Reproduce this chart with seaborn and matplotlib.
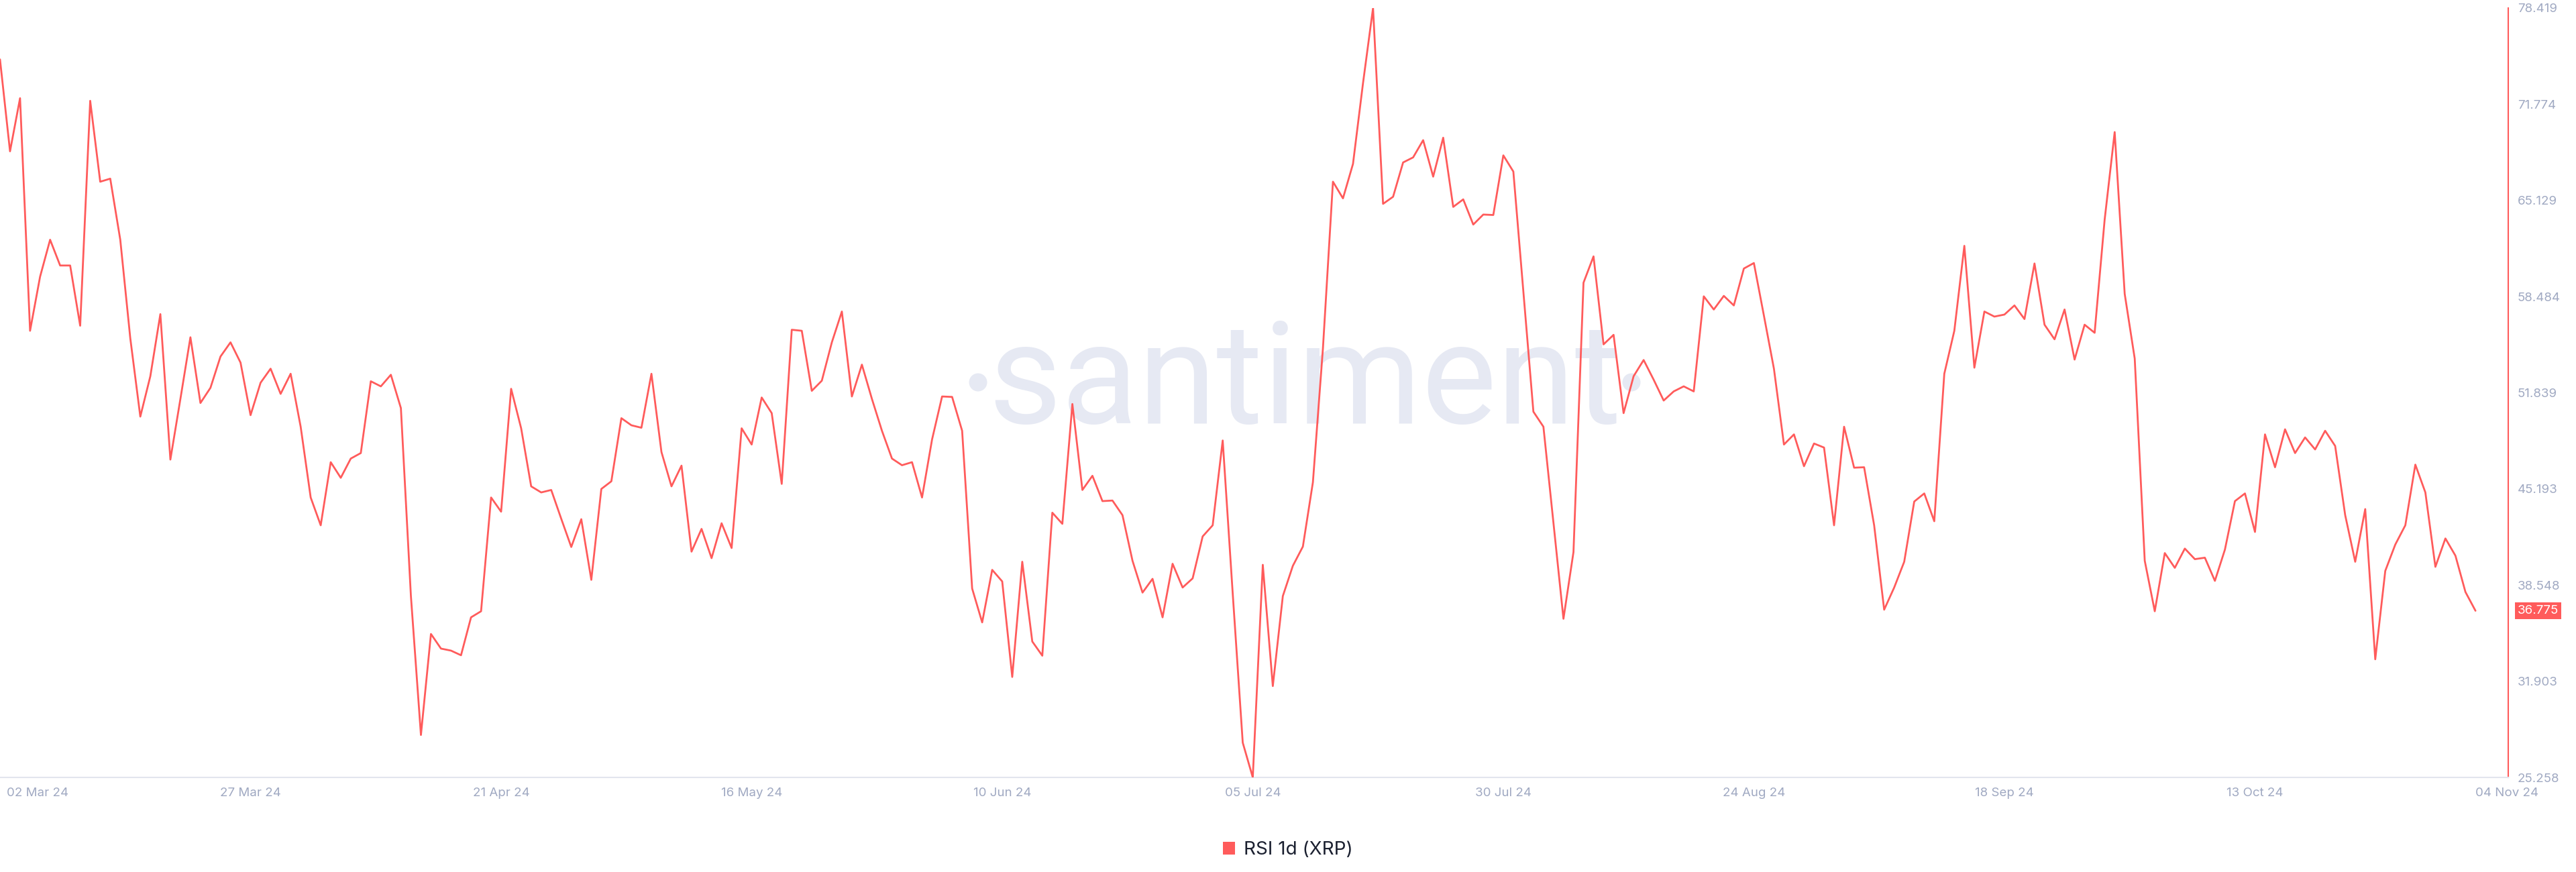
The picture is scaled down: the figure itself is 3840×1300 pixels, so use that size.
import numpy as np
import pandas as pd
import matplotlib
matplotlib.use('Agg')
import matplotlib.pyplot as plt
import seaborn as sns
from matplotlib.patches import Ellipse, Patch
from matplotlib.transforms import ScaledTranslation

# RSI 1d (XRP), one value per day from 02 Mar 24 to 04 Nov 24
start_date = '2024-03-02'
rsi = [
    74.87, 68.52, 72.19, 56.12, 59.86, 62.41, 60.63, 60.63, 56.47, 72.01,
    66.42, 66.63, 62.41, 55.60, 50.19, 52.98, 57.27, 47.22, 51.41, 55.67,
    51.13, 52.18, 54.34, 55.32, 53.92, 50.29, 52.53, 53.50, 51.76, 53.15,
    49.49, 44.60, 42.68, 47.04, 45.96, 47.29, 47.67, 52.63, 52.28, 53.08,
    50.78, 37.79, 28.19, 35.17, 34.16, 34.02, 33.70, 36.32, 36.74, 44.60,
    43.62, 52.11, 49.38, 45.37, 44.95, 45.12, 43.13, 41.18, 43.10, 38.91,
    45.19, 45.72, 50.08, 49.59, 49.42, 53.15, 47.74, 45.37, 46.80, 40.86,
    42.43, 40.41, 42.82, 41.11, 49.38, 48.26, 51.51, 50.43, 45.54, 56.19,
    56.12, 51.97, 52.67, 55.32, 57.45, 51.58, 53.78, 51.41, 49.21, 47.29,
    46.83, 47.04, 44.60, 48.61, 51.58, 51.55, 49.21, 38.31, 35.97, 39.60,
    38.80, 32.20, 40.16, 34.65, 33.67, 43.55, 42.78, 51.06, 45.12, 46.10,
    44.35, 44.39, 43.38, 40.23, 38.03, 38.98, 36.32, 40.02, 38.38, 39.01,
    41.91, 42.68, 48.54, 37.96, 27.66, 25.258, 39.95, 31.57, 37.79, 39.88,
    41.21, 45.65, 54.90, 66.42, 65.27, 67.65, 73.23, 78.419, 64.89, 65.38,
    67.75, 68.10, 69.29, 66.77, 69.46, 64.68, 65.20, 63.46, 64.15, 64.12,
    68.24, 67.12, 58.81, 50.53, 49.49, 42.85, 36.22, 40.83, 59.44, 61.26,
    55.18, 55.84, 50.43, 52.98, 54.10, 52.74, 51.30, 51.93, 52.28, 51.93,
    58.50, 57.59, 58.53, 57.87, 60.42, 60.80, 57.17, 53.50, 48.26, 48.96,
    46.76, 48.33, 48.05, 42.68, 49.49, 46.66, 46.69, 42.68, 36.85, 38.38,
    40.16, 44.32, 44.88, 42.96, 53.15, 56.12, 61.99, 53.57, 57.45, 57.10,
    57.24, 57.87, 56.93, 60.77, 56.54, 55.53, 57.59, 54.13, 56.54, 55.98,
    63.80, 69.85, 58.67, 54.20, 40.23, 36.74, 40.76, 39.74, 41.07, 40.34,
    40.44, 38.84, 41.00, 44.35, 44.88, 42.22, 48.96, 46.69, 49.31, 47.67,
    48.75, 47.92, 49.21, 48.16, 43.38, 40.16, 43.80, 33.42, 39.53, 41.35,
    42.68, 46.87, 44.95, 39.81, 41.77, 40.58, 38.07, 36.775,
]

x_ticks = ['2024-03-02', '2024-03-27', '2024-04-21', '2024-05-16', '2024-06-10', '2024-07-05',
           '2024-07-30', '2024-08-24', '2024-09-18', '2024-10-13', '2024-11-04']
x_tick_labels = ['02 Mar 24', '27 Mar 24', '21 Apr 24', '16 May 24', '10 Jun 24', '05 Jul 24',
                 '30 Jul 24', '24 Aug 24', '18 Sep 24', '13 Oct 24', '04 Nov 24']
y_ticks = [25.258, 31.903, 38.548, 45.193, 51.839, 58.484, 65.129, 71.774, 78.419]
series_label = 'RSI 1d (XRP)'

RED = '#ff5b5b'
TICK = '#a0a9c2'
WATERMARK = '#e6e9f3'

sns.set_style('white')
plt.rcParams['font.family'] = ['Inter', 'DejaVu Sans']

df = pd.DataFrame({'date': pd.date_range(start_date, periods=len(rsi), freq='D'), 'rsi': rsi})

W, H = 3840, 1300
fig = plt.figure(figsize=(W / 100, H / 100), dpi=100)
ax = fig.add_axes([0, 1 - 1159 / H, 3739 / W, (1159 - 12) / H])

# watermark behind the line
ax.text(1945 / W, 1 - 631 / H, 'santiment', transform=fig.transFigure, ha='center', va='baseline',
        fontsize=152, color=WATERMARK, family=['Roboto', 'DejaVu Sans'], zorder=0)
for cx in (1458, 2432):
    ax.add_artist(Ellipse((cx / W, 1 - 570 / H), 27 / W, 27 / H, transform=fig.transFigure,
                          facecolor=WATERMARK, edgecolor='none', zorder=0))

sns.lineplot(data=df, x='date', y='rsi', ax=ax, color=RED, linewidth=2.0, zorder=3)

ax.set_xlim(df['date'].iloc[0], df['date'].iloc[0] + pd.Timedelta(days=250.27))
ax.set_ylim(min(rsi), max(rsi))
ax.set_xlabel('')
ax.set_ylabel('')

ax.set_xticks(pd.to_datetime(x_ticks))
ax.set_xticklabels(x_tick_labels)
ax.yaxis.tick_right()
ax.set_yticks(y_ticks)
ax.set_yticklabels([f'{v:.3f}' for v in y_ticks])
ax.tick_params(axis='x', length=0, pad=11, labelsize=13.5, labelcolor=TICK)
ax.tick_params(axis='y', length=0, pad=10, labelsize=13.5, labelcolor=TICK)

labels = ax.get_xticklabels()
labels[0].set_horizontalalignment('left')
labels[0].set_transform(labels[0].get_transform() + ScaledTranslation(0.1, 0, fig.dpi_scale_trans))
labels[-1].set_horizontalalignment('left')

for side in ('left', 'top'):
    ax.spines[side].set_visible(False)
ax.spines['right'].set_color(RED)
ax.spines['right'].set_linewidth(1.5)
ax.spines['bottom'].set_color('#e2e5ee')
ax.spines['bottom'].set_linewidth(1.5)

# last value badge
ax.annotate(f'{rsi[-1]:.3f}', xy=(1, rsi[-1]), xycoords=('axes fraction', 'data'),
            xytext=(10, 0), textcoords='offset points', ha='left', va='center',
            fontsize=13.5, color='white', annotation_clip=False,
            bbox=dict(boxstyle='square,pad=0.2', facecolor=RED, edgecolor='none'))

fig.legend(handles=[Patch(facecolor=RED, edgecolor='none', label=series_label)],
           loc='center', bbox_to_anchor=(0.5, 1 - 1267 / H), frameon=False, fontsize=20,
           handlelength=0.65, handleheight=0.65, handletextpad=0.45, labelcolor='#1b2030')

fig.savefig('out.png', dpi=100)
